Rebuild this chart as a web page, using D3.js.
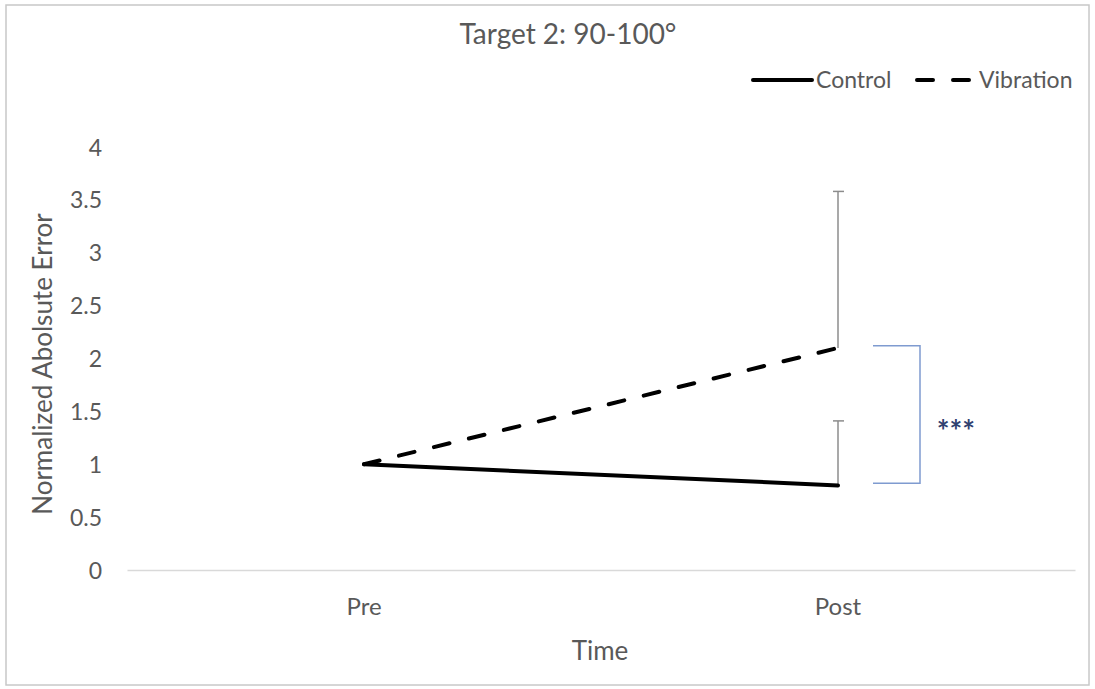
<!DOCTYPE html>
<html>
<head>
<meta charset="utf-8">
<script src="https://cdn.jsdelivr.net/npm/d3@7"></script>
<style>
  html, body { margin: 0; padding: 0; background: #fff; }
  svg { display: block; font-family: Lato, "Open Sans", sans-serif; }
</style>
</head>
<body>
<svg id="chart" width="1095" height="689"></svg>
<script>
// ---- data ----
const categories = ["Pre", "Post"];
const controlValues = [1.0, 0.80];
const vibrationValues = [1.0, 2.10];
const controlErrorTop = [null, 1.41];
const vibrationErrorTop = [null, 3.58];
const yTicks = [0, 0.5, 1, 1.5, 2, 2.5, 3, 3.5, 4];
const yTickLabels = ["0", "0.5", "1", "1.5", "2", "2.5", "3", "3.5", "4"];
const bracketRange = [0.82, 2.12];
const significance = "***";
const titleText = "Target 2: 90-100°";
const xTitle = "Time";
const yTitle = "Normalized Abolsute Error";
const seriesNames = ["Control", "Vibration"];

// ---- layout ----
const svg = d3.select("#chart");
const W = 1095, H = 689;
const plot = { left: 127, right: 1075, top: 147, bottom: 570 };

svg.append("rect").attr("x", 6).attr("y", 5).attr("width", W - 12).attr("height", H - 9)
  .attr("fill", "#fff").attr("stroke", "#c8c8c8").attr("stroke-width", 1.5);

const x = d3.scaleBand().domain(categories).range([plot.left, plot.right]);
const xc = d => x(d) + x.bandwidth() / 2;
const y = d3.scaleLinear().domain([0, 4]).range([plot.bottom, plot.top]);

const textColor = "#595959";
const FONT = "Lato, 'Open Sans', sans-serif";

// title
svg.append("text").attr("x", 568).attr("y", 44).attr("text-anchor", "middle")
  .attr("font-size", 28).attr("fill", textColor).text(titleText);

// y axis tick labels
const yAxis = d3.axisLeft(y).tickValues(yTicks).tickFormat((d, i) => yTickLabels[i]).tickSize(0).tickPadding(0);
const yg = svg.append("g").attr("transform", `translate(${plot.left - 25},0)`).call(yAxis);
yg.select(".domain").remove();
yg.attr("font-size", null).attr("font-family", null);
yg.selectAll("text").attr("font-size", 23).attr("fill", textColor).attr("font-family", FONT).attr("dy", "0.35em");

// x axis
const xAxis = d3.axisBottom(x).tickSize(0).tickPadding(0);
const xg = svg.append("g").attr("transform", `translate(0,${plot.bottom})`).call(xAxis);
xg.attr("font-size", null).attr("font-family", null);
xg.select(".domain").attr("stroke", "#d9d9d9").attr("stroke-width", 1.5);
xg.selectAll("text").attr("font-size", 24).attr("fill", textColor).attr("font-family", FONT)
  .attr("dy", 0).attr("y", 45);

// axis titles
svg.append("text").attr("x", 600).attr("y", 660).attr("text-anchor", "middle")
  .attr("font-size", 26).attr("fill", textColor).text(xTitle);
svg.append("text").attr("transform", `translate(52,364) rotate(-90)`).attr("text-anchor", "middle")
  .attr("font-size", 26).attr("fill", textColor).text(yTitle);

// error bars
function errorBar(values, tops) {
  categories.forEach((c, i) => {
    if (tops[i] == null) return;
    const cx = xc(c);
    svg.append("line").attr("x1", cx).attr("x2", cx).attr("y1", y(values[i])).attr("y2", y(tops[i]))
      .attr("stroke", "#8c8c8c").attr("stroke-width", 1.5);
    svg.append("line").attr("x1", cx - 5).attr("x2", cx + 6).attr("y1", y(tops[i])).attr("y2", y(tops[i]))
      .attr("stroke", "#8c8c8c").attr("stroke-width", 1.5);
  });
}
errorBar(vibrationValues, vibrationErrorTop);
errorBar(controlValues, controlErrorTop);

// lines
const line = d3.line().x((d, i) => xc(categories[i])).y(d => y(d));
svg.append("path").datum(controlValues).attr("d", line).attr("fill", "none")
  .attr("stroke", "#000").attr("stroke-width", 4).attr("stroke-linecap", "round");
svg.append("path").datum(vibrationValues).attr("d", line).attr("fill", "none")
  .attr("stroke", "#000").attr("stroke-width", 4).attr("stroke-linecap", "round")
  .attr("stroke-dasharray", "16 20");

// bracket
const bx0 = 873, bx1 = 920;
svg.append("path")
  .attr("d", `M${bx0},${y(bracketRange[1])} H${bx1} V${y(bracketRange[0])} H${bx0}`)
  .attr("fill", "none").attr("stroke", "#7f9bd0").attr("stroke-width", 1.5);
svg.append("text").attr("x", 956).attr("y", y((bracketRange[0] + bracketRange[1]) / 2) + 27)
  .attr("text-anchor", "middle").attr("font-size", 30).attr("font-weight", "bold")
  .attr("fill", "#2f4170").text(significance);

// legend
const legY = 80;
svg.append("line").attr("x1", 753).attr("x2", 812).attr("y1", legY).attr("y2", legY)
  .attr("stroke", "#000").attr("stroke-width", 4).attr("stroke-linecap", "round");
svg.append("text").attr("x", 816).attr("y", legY + 8).attr("font-size", 23).attr("fill", textColor).text(seriesNames[0]);
svg.append("line").attr("x1", 917).attr("x2", 972).attr("y1", legY).attr("y2", legY)
  .attr("stroke", "#000").attr("stroke-width", 4).attr("stroke-linecap", "round")
  .attr("stroke-dasharray", "16 20");
svg.append("text").attr("x", 979).attr("y", legY + 8).attr("font-size", 23).attr("fill", textColor).text(seriesNames[1]);
</script>
</body>
</html>
